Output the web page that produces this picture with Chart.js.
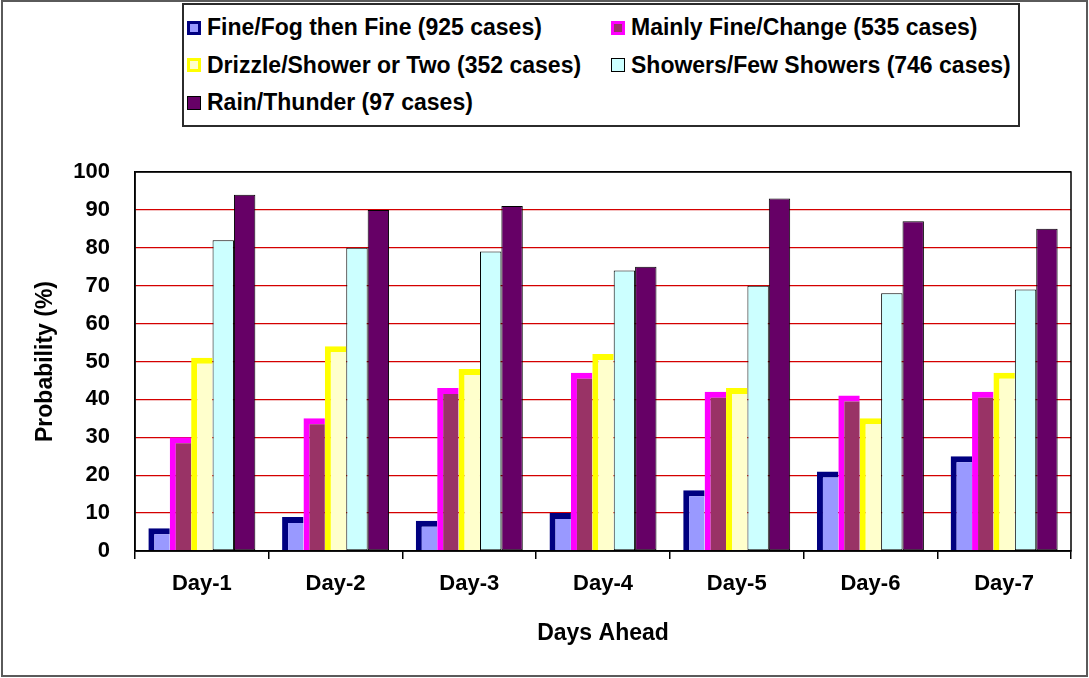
<!DOCTYPE html>
<html>
<head>
<meta charset="utf-8">
<script src="https://cdn.jsdelivr.net/npm/chart.js@4.4.1/dist/chart.umd.min.js"></script>
<style>
  html, body { margin: 0; padding: 0; background: #fff; }
  body { width: 1089px; height: 678px; position: relative; overflow: hidden;
         font-family: "Liberation Sans", Arial, sans-serif; }
  #chart { position: absolute; left: 0; top: 0; }
  #frame { position: absolute; left: 1px; top: 0px; width: 1087px; height: 677px;
           box-sizing: border-box; border: 2px solid #5a5a5a; pointer-events: none; }
  #legend { position: absolute; left: 182px; top: 3px; width: 838px; height: 124px;
            box-sizing: border-box; border: 2px solid #2b2b2b; background: #fff;
            display: grid; grid-template-columns: 424px auto; grid-auto-rows: 37.5px;
            padding: 4px 0 0 3px; }
  .item { display: flex; align-items: center; font-weight: bold; font-size: 23px;
          color: #000; white-space: nowrap; }
  .swatch { width: 14px; height: 14px; box-sizing: border-box; margin-right: 6px; flex: none; }
</style>
</head>
<body>
<canvas id="chart" width="1089" height="678"></canvas>
<div id="frame"></div>
<div id="legend"></div>
<script>
// Forecast verification: probability that each forecast wording was correct, by lead time
const days = ["Day-1", "Day-2", "Day-3", "Day-4", "Day-5", "Day-6", "Day-7"];

const seriesNames = [
  "Fine/Fog then Fine (925 cases)",
  "Mainly Fine/Change (535 cases)",
  "Drizzle/Shower or Two (352 cases)",
  "Showers/Few Showers (746 cases)",
  "Rain/Thunder (97 cases)"
];

const fineFog       = [6, 9, 8, 10, 16, 21, 25];
const mainlyFine    = [30, 35, 43, 47, 42, 41, 42];
const drizzle       = [51, 54, 48, 52, 43, 35, 47];
const showers       = [82, 80, 79, 74, 70, 68, 69];
const rainThunder   = [94, 90, 91, 75, 93, 87, 85];

const yTicks = [0, 10, 20, 30, 40, 50, 60, 70, 80, 90, 100];

// fill / outline pairs for each series
const fills   = ["#9999ff", "#993366", "#ffffcc", "#ccffff", "#660066"];
const strokes = ["#000080", "#ff00ff", "#ffff00", "#000000", "#000000"];
const heavyEdge = { top: 6, left: 6, right: 0, bottom: 0 };
const thinEdge  = 1;
const edges = [heavyEdge, heavyEdge, heavyEdge, thinEdge, thinEdge];

const values = [fineFog, mainlyFine, drizzle, showers, rainThunder];

const datasets = values.map((v, i) => ({
  label: seriesNames[i],
  data: v,
  backgroundColor: fills[i],
  borderColor: strokes[i],
  borderWidth: edges[i],
  borderSkipped: false,
  categoryPercentage: 0.8,
  barPercentage: 1.0
}));

const plotFrame = {
  id: "plotFrame",
  afterDatasetsDraw(chart) {
    const { ctx, chartArea: a } = chart;
    ctx.save();
    ctx.strokeStyle = "#000";
    ctx.lineWidth = 1.5;
    ctx.strokeRect(a.left, a.top, a.right - a.left, a.bottom - a.top);
    ctx.restore();
  }
};

const whiteBg = {
  id: "whiteBg",
  beforeDraw(chart) {
    const { ctx, width, height } = chart;
    ctx.save();
    ctx.fillStyle = "#fff";
    ctx.fillRect(0, 0, width, height);
    ctx.restore();
  }
};

const font = "'Liberation Sans', Arial, sans-serif";

new Chart(document.getElementById("chart"), {
  type: "bar",
  data: { labels: days, datasets },
  plugins: [whiteBg, plotFrame],
  options: {
    responsive: false,
    devicePixelRatio: 1,
    animation: false,
    layout: { padding: { top: 172, right: 18, bottom: 0, left: 0 } },
    plugins: { legend: { display: false }, tooltip: { enabled: false } },
    scales: {
      x: {
        afterFit(scale) { scale.height = 127; },
        grid: { offset: true, drawOnChartArea: false, drawTicks: true, tickLength: 8,
                color: "#000", lineWidth: 1.5 },
        border: { color: "#000", width: 1.5 },
        ticks: { color: "#000", padding: 12, font: { family: font, size: 22, weight: "bold" } },
        title: { display: true, text: "Days Ahead", color: "#000",
                 font: { family: font, size: 23, weight: "bold" },
                 padding: { top: 0, bottom: 31 } }
      },
      y: {
        min: 0, max: 100,
        afterFit(scale) { scale.width = 135; },
        afterBuildTicks(scale) { scale.ticks = yTicks.map(v => ({ value: v })); },
        grid: {
          drawTicks: false,
          color: (c) => (c.tick && (c.tick.value === 100 || c.tick.value === 0)) ? "#000" : "#d40000",
          lineWidth: 1.3
        },
        border: { color: "#000", width: 1.5 },
        ticks: { color: "#000", padding: 25, font: { family: font, size: 22, weight: "bold" } },
        title: { display: true, text: "Probability (%)", color: "#000",
                 font: { family: font, size: 23, weight: "bold" },
                 padding: { top: 32, bottom: 0 } }
      }
    }
  }
});

// legend laid out in two columns, built from the same series definitions
const legend = document.getElementById("legend");
seriesNames.forEach((name, i) => {
  const item = document.createElement("div");
  item.className = "item";
  const sw = document.createElement("span");
  sw.className = "swatch";
  sw.style.background = fills[i];
  sw.style.border = (i < 3 ? "3px" : "1px") + " solid " + strokes[i];
  item.appendChild(sw);
  item.appendChild(document.createTextNode(name));
  legend.appendChild(item);
});
</script>
</body>
</html>
